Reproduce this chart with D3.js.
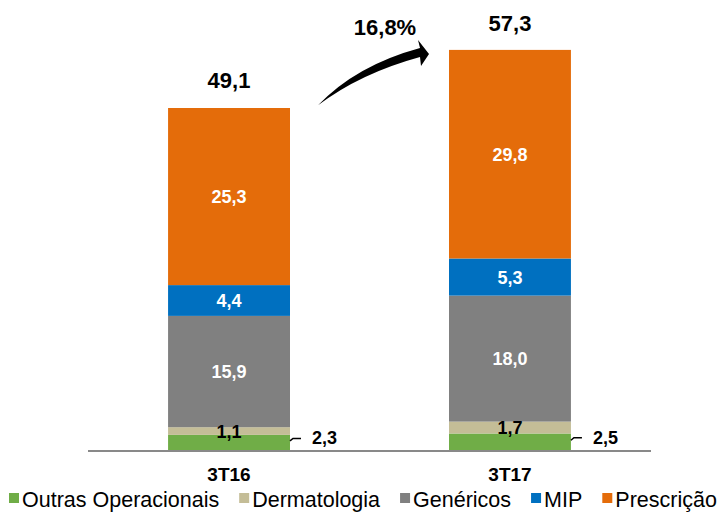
<!DOCTYPE html>
<html>
<head>
<meta charset="utf-8">
<script src="https://cdn.jsdelivr.net/npm/d3@7"></script>
<style>
  body { margin: 0; background: #fff; }
  svg { display: block; font-family: "Liberation Sans", Arial, sans-serif; }
</style>
</head>
<body>
<svg width="719" height="512"></svg>
<script>
var categories = ["3T16", "3T17"];
var seriesNames = ["Outras Operacionais", "Dermatologia", "Genéricos", "MIP", "Prescrição"];
var outras = [2.3, 2.5];
var dermato = [1.1, 1.7];
var genericos = [15.9, 18.0];
var mip = [4.4, 5.3];
var prescricao = [25.3, 29.8];
var totals = [49.1, 57.3];
var growth = "16,8%";

var colors = ["#70AD47", "#C4BD97", "#808080", "#0070C0", "#E46C0A"];
var labelColors = ["#000", "#000", "#fff", "#fff", "#fff"];

var svg = d3.select("svg");
var fmt = v => v.toFixed(1).replace(".", ",");

var x = d3.scaleBand().domain(categories).range([88, 651])
    .paddingInner(0.566).paddingOuter(0.285);
var y = d3.scaleLinear().domain([0, 60]).range([451, 31]);

var rows = categories.map((c, i) => ({
  cat: c, s0: outras[i], s1: dermato[i], s2: genericos[i], s3: mip[i], s4: prescricao[i]
}));
var stack = d3.stack().keys(["s0", "s1", "s2", "s3", "s4"])(rows);

// bars
var layers = svg.append("g").selectAll("g")
  .data(stack).enter().append("g")
    .attr("fill", (d, i) => colors[i]);

layers.selectAll("rect")
  .data(d => d).enter().append("rect")
    .attr("x", d => x(d.data.cat))
    .attr("width", x.bandwidth())
    .attr("y", d => y(d[1]))
    .attr("height", d => y(d[0]) - y(d[1]));

// baseline
svg.append("line")
  .attr("x1", x.range()[0]).attr("x2", x.range()[1])
  .attr("y1", y(0)).attr("y2", y(0))
  .attr("stroke", "#898989").attr("stroke-width", 2);

// segment labels (all but the bottom one, which sits outside)
stack.forEach((layer, k) => {
  if (k === 0) return;
  layer.forEach(d => {
    svg.append("text")
      .attr("x", x(d.data.cat) + x.bandwidth() / 2)
      .attr("y", (y(d[0]) + y(d[1])) / 2 + 6.5)
      .attr("text-anchor", "middle")
      .attr("font-size", 18).attr("font-weight", "bold")
      .attr("fill", labelColors[k])
      .text(fmt(d[1] - d[0]));
  });
});

// bottom segment labels with leader
stack[0].forEach(d => {
  var x0 = x(d.data.cat) + x.bandwidth();
  var ym = (y(d[0]) + y(d[1])) / 2;
  svg.append("path")
    .attr("d", "M" + x0 + "," + (ym - 2) + " L" + (x0 + 3) + "," + (ym - 4.5) + " L" + (x0 + 11) + "," + (ym - 4.5))
    .attr("fill", "none").attr("stroke", "#000").attr("stroke-width", 1.5);
  svg.append("text")
    .attr("x", x0 + 22).attr("y", ym + 1.5)
    .attr("font-size", 18).attr("font-weight", "bold")
    .text(fmt(d[1] - d[0]));
});

// totals
categories.forEach((c, i) => {
  svg.append("text")
    .attr("x", x(c) + x.bandwidth() / 2)
    .attr("y", y(totals[i]) - 19)
    .attr("text-anchor", "middle")
    .attr("font-size", 22).attr("font-weight", "bold")
    .text(fmt(totals[i]));
});

// category labels
svg.append("g").selectAll("text")
  .data(categories).enter().append("text")
    .attr("x", d => x(d) + x.bandwidth() / 2)
    .attr("y", 481)
    .attr("text-anchor", "middle")
    .attr("font-size", 19).attr("font-weight", "bold")
    .text(d => d);

// growth arrow
var ax0 = x(categories[0]) + x.bandwidth() + 28, ay0 = y(totals[0]) - 2;
var ax1 = x(categories[1]) - 20, ay1 = y(totals[1]) + 4;
var arrow = d3.path();
arrow.moveTo(ax0, ay0);
arrow.quadraticCurveTo(ax0 + 38, ay0 - 40, ax1 - 9, ay1 - 6);
arrow.lineTo(ax1 - 11, ay1 - 14);
arrow.lineTo(ax1, ay1);
arrow.lineTo(ax1 - 8, ay1 + 12);
arrow.lineTo(ax1 - 9, ay1 + 3);
arrow.quadraticCurveTo(ax0 + 42, ay0 - 32, ax0, ay0);
arrow.closePath();
svg.append("path").attr("d", arrow.toString()).attr("fill", "#000");

svg.append("text")
  .attr("x", 385).attr("y", 35)
  .attr("text-anchor", "middle")
  .attr("font-size", 22).attr("font-weight", "bold")
  .text(growth);

// legend
var lx = 9;
seriesNames.forEach((n, i) => {
  svg.append("rect")
    .attr("x", lx).attr("y", 493).attr("width", 10).attr("height", 10)
    .attr("fill", colors[i]);
  var t = svg.append("text")
    .attr("x", lx + 13).attr("y", 507)
    .attr("font-size", 21.5)
    .text(n);
  lx += 13 + t.node().getComputedTextLength() + 20;
});
</script>
</body>
</html>
